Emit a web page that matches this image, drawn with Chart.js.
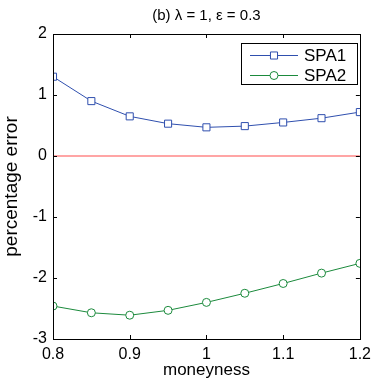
<!DOCTYPE html>
<html>
<head>
<meta charset="utf-8">
<script src="https://cdn.jsdelivr.net/npm/chart.js@4/dist/chart.umd.min.js"></script>
<style>
  html, body { margin: 0; padding: 0; background: #fff; }
  #wrap { width: 377px; height: 381px; }
</style>
</head>
<body>
<div id="wrap"><canvas id="errChart" width="377" height="381"></canvas></div>
<script>
// moneyness grid and percentage errors
const moneyness = [0.8, 0.85, 0.9, 0.95, 1.0, 1.05, 1.1, 1.15, 1.2];
const spa1 = [1.30, 0.90, 0.65, 0.53, 0.47, 0.49, 0.55, 0.62, 0.72];
const spa2 = [-2.46, -2.57, -2.61, -2.53, -2.40, -2.25, -2.09, -1.92, -1.76];
const xTicks = [0.8, 0.9, 1.0, 1.1, 1.2];
const yTicks = [-3, -2, -1, 0, 1, 2];
const seriesNames = ['SPA1', 'SPA2'];

const BLUE = '#2f4fae';
const GREEN = '#1b8a3c';
const FONT = 'Liberation Sans, Arial, sans-serif';

const toPts = (ys) => moneyness.map((x, i) => ({ x: x, y: ys[i] }));

/* draws the full axes box, inward ticks on all four sides, and the boxed legend */
const matlabAxes = {
    id: 'matlabAxes',
    afterDatasetsDraw(chart) {
        const { ctx, chartArea: a, scales } = chart;
        ctx.save();
        ctx.strokeStyle = '#000';
        ctx.lineWidth = 1;
        ctx.strokeRect(Math.round(a.left) + 0.5, Math.round(a.top) + 0.5,
            Math.round(a.right - a.left), Math.round(a.bottom - a.top));
        const t = 4;
        ctx.beginPath();
        xTicks.forEach(v => {
            const px = Math.round(scales.x.getPixelForValue(v)) + 0.5;
            ctx.moveTo(px, a.bottom); ctx.lineTo(px, a.bottom - t);
            ctx.moveTo(px, a.top); ctx.lineTo(px, a.top + t);
        });
        yTicks.forEach(v => {
            const py = Math.round(scales.y.getPixelForValue(v)) + 0.5;
            ctx.moveTo(a.left, py); ctx.lineTo(a.left + t, py);
            ctx.moveTo(a.right, py); ctx.lineTo(a.right - t, py);
        });
        ctx.stroke();

        // legend box in the upper right corner
        const bx = Math.round(a.right) - 119, by = Math.round(a.top) + 9, bw = 116, bh = 41;
        ctx.fillStyle = '#fff';
        ctx.fillRect(bx, by, bw, bh);
        ctx.strokeStyle = '#000';
        ctx.strokeRect(bx + 0.5, by + 0.5, bw, bh);
        seriesNames.forEach((name, i) => {
            const d = chart.data.datasets[i];
            const cy = Math.round(by + 12 + i * 19.5) + 0.5;
            ctx.strokeStyle = d.borderColor;
            ctx.lineWidth = 1;
            ctx.beginPath();
            ctx.moveTo(bx + 9, cy); ctx.lineTo(bx + 57, cy);
            ctx.stroke();
            ctx.fillStyle = '#fff';
            Chart.helpers.drawPoint(ctx, {
                pointStyle: d.pointStyle, radius: d.pointRadius, borderWidth: 1
            }, bx + 33, cy);
            ctx.fillStyle = '#000';
            ctx.font = '17px ' + FONT;
            ctx.textBaseline = 'middle';
            ctx.textAlign = 'left';
            ctx.fillText(name, bx + 63, cy + 1);
        });
        ctx.restore();
    }
};

new Chart(document.getElementById('errChart'), {
    type: 'line',
    data: {
        datasets: [
            {
                label: seriesNames[0], data: toPts(spa1),
                borderColor: BLUE, backgroundColor: '#fff', borderWidth: 1,
                pointStyle: 'rect', pointRadius: 5, pointBorderWidth: 1,
                pointBackgroundColor: '#fff', tension: 0
            },
            {
                label: seriesNames[1], data: toPts(spa2),
                borderColor: GREEN, backgroundColor: '#fff', borderWidth: 1,
                pointStyle: 'circle', pointRadius: 4, pointBorderWidth: 1,
                pointBackgroundColor: '#fff', tension: 0
            },
            {
                label: 'zero', data: [{ x: 0.8, y: 0 }, { x: 1.2, y: 0 }],
                borderColor: '#ff4d4d', borderWidth: 1.2, pointRadius: 0, order: 5
            }
        ]
    },
    options: {
        responsive: false,
        animation: false,
        layout: { padding: { left: 0, right: 13, top: 0, bottom: 0 } },
        plugins: {
            legend: { display: false },
            tooltip: { enabled: false },
            title: {
                display: true,
                fullSize: false,
                text: '(b) \u03bb = 1, \u03b5 = 0.3',
                color: '#000',
                font: { family: FONT, size: 15, weight: 'normal' },
                padding: { top: 7, bottom: 9 }
            }
        },
        scales: {
            x: {
                type: 'linear', min: 0.8, max: 1.2,
                afterBuildTicks: (s) => { s.ticks = xTicks.map(v => ({ value: v })); },
                afterFit: (s) => { s.height = 42; },
                grid: { display: false, drawTicks: false },
                border: { display: false },
                ticks: {
                    color: '#000', padding: 6, maxRotation: 0,
                    font: { family: FONT, size: 16 },
                    callback: (v) => String(v)
                },
                title: {
                    display: true, text: 'moneyness', color: '#000',
                    font: { family: FONT, size: 17 }, padding: { top: 0, bottom: 0 }
                }
            },
            y: {
                type: 'linear', min: -3, max: 2,
                afterBuildTicks: (s) => { s.ticks = yTicks.map(v => ({ value: v })); },
                afterFit: (s) => { s.width = 53; },
                grid: { display: false, drawTicks: false },
                border: { display: false },
                ticks: {
                    color: '#000', padding: 6,
                    font: { family: FONT, size: 16 }
                },
                title: {
                    display: true, text: 'percentage error', color: '#000',
                    font: { family: FONT, size: 19 }, padding: { top: 0, bottom: 1 }
                }
            }
        }
    },
    plugins: [matlabAxes]
});
</script>
</body>
</html>
